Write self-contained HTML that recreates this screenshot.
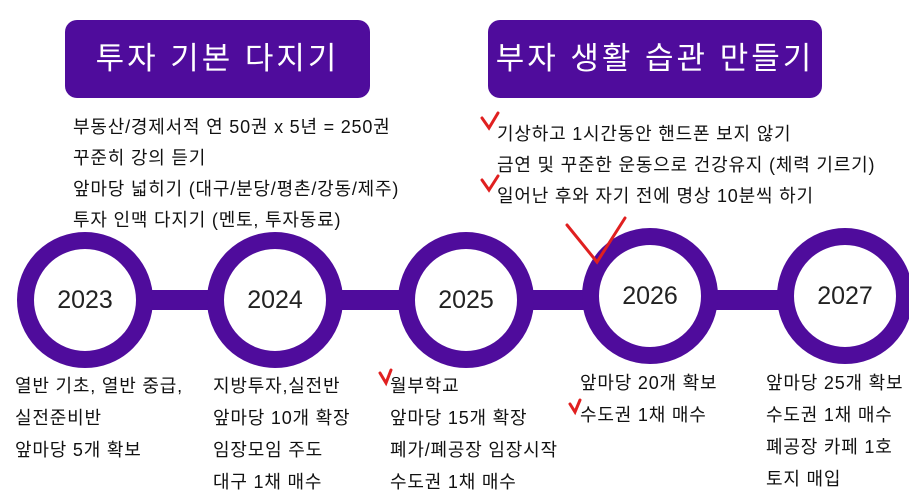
<!DOCTYPE html>
<html><head><meta charset="utf-8"><style>
body{margin:0;width:909px;height:497px;background:#fff;position:relative;overflow:hidden;font-family:"Liberation Sans","Noto Sans CJK KR",sans-serif;color:#111}
.box{position:absolute;background:#4f0c9c;color:#fff;border-radius:12px;text-align:center;font-size:31px;line-height:78px;letter-spacing:3px}
.t{position:absolute;font-size:18px;letter-spacing:0.8px;white-space:nowrap}
.c{position:absolute;width:102px;height:102px;border:17px solid #4f0c9c;border-radius:50%;background:#fff;text-align:center;line-height:102px;font-size:25px;color:#222}
.bar{position:absolute;left:100px;top:290px;width:740px;height:20px;background:#4f0c9c}
</style></head><body>
<div class="box" style="left:65px;top:20px;width:305px;height:78px">투자 기본 다지기</div>
<div class="box" style="left:488px;top:20px;width:334px;height:78px">부자 생활 습관 만들기</div>
<div class="t" style="left:73px;top:113px">부동산/경제서적 연 50권 x 5년 = 250권</div>
<div class="t" style="left:73px;top:144px">꾸준히 강의 듣기</div>
<div class="t" style="left:73px;top:175px">앞마당 넓히기 (대구/분당/평촌/강동/제주)</div>
<div class="t" style="left:73px;top:206px">투자 인맥 다지기 (멘토, 투자동료)</div>
<div class="t" style="left:497px;top:120px">기상하고 1시간동안 핸드폰 보지 않기</div>
<div class="t" style="left:497px;top:151px">금연 및 꾸준한 운동으로 건강유지 (체력 기르기)</div>
<div class="t" style="left:497px;top:182px">일어난 후와 자기 전에 명상 10분씩 하기</div>
<div class="bar"></div>
<div class="c" style="left:17px;top:232px">2023</div>
<div class="c" style="left:207px;top:232px">2024</div>
<div class="c" style="left:398px;top:232px">2025</div>
<div class="c" style="left:582px;top:228px">2026</div>
<div class="c" style="left:777px;top:228px">2027</div>
<svg style="position:absolute;left:0;top:0" width="909" height="497">
<g stroke="#e02020" stroke-width="3" fill="none" stroke-linecap="round">
<path d="M482 118 L489 128 L498 113"/>
<path d="M482 180 L489 190 L498 176"/>
<path d="M567 225 L597 262 L625 218"/>
<path d="M380 373 L386 383 L391 370"/>
<path d="M570 404 L575 412 L580 400"/>
</g></svg>
<div class="t" style="left:15px;top:372px">열반 기초, 열반 중급,</div>
<div class="t" style="left:15px;top:404px">실전준비반</div>
<div class="t" style="left:15px;top:436px">앞마당 5개 확보</div>
<div class="t" style="left:213px;top:372px">지방투자,실전반</div>
<div class="t" style="left:213px;top:404px">앞마당 10개 확장</div>
<div class="t" style="left:213px;top:436px">임장모임 주도</div>
<div class="t" style="left:213px;top:468px">대구 1채 매수</div>
<div class="t" style="left:390px;top:372px">월부학교</div>
<div class="t" style="left:390px;top:404px">앞마당 15개 확장</div>
<div class="t" style="left:390px;top:436px">폐가/폐공장 임장시작</div>
<div class="t" style="left:390px;top:468px">수도권 1채 매수</div>
<div class="t" style="left:580px;top:369px">앞마당 20개 확보</div>
<div class="t" style="left:580px;top:401px">수도권 1채 매수</div>
<div class="t" style="left:766px;top:369px">앞마당 25개 확보</div>
<div class="t" style="left:766px;top:401px">수도권 1채 매수</div>
<div class="t" style="left:766px;top:433px">폐공장 카페 1호</div>
<div class="t" style="left:766px;top:465px">토지 매입</div>
</body></html>
